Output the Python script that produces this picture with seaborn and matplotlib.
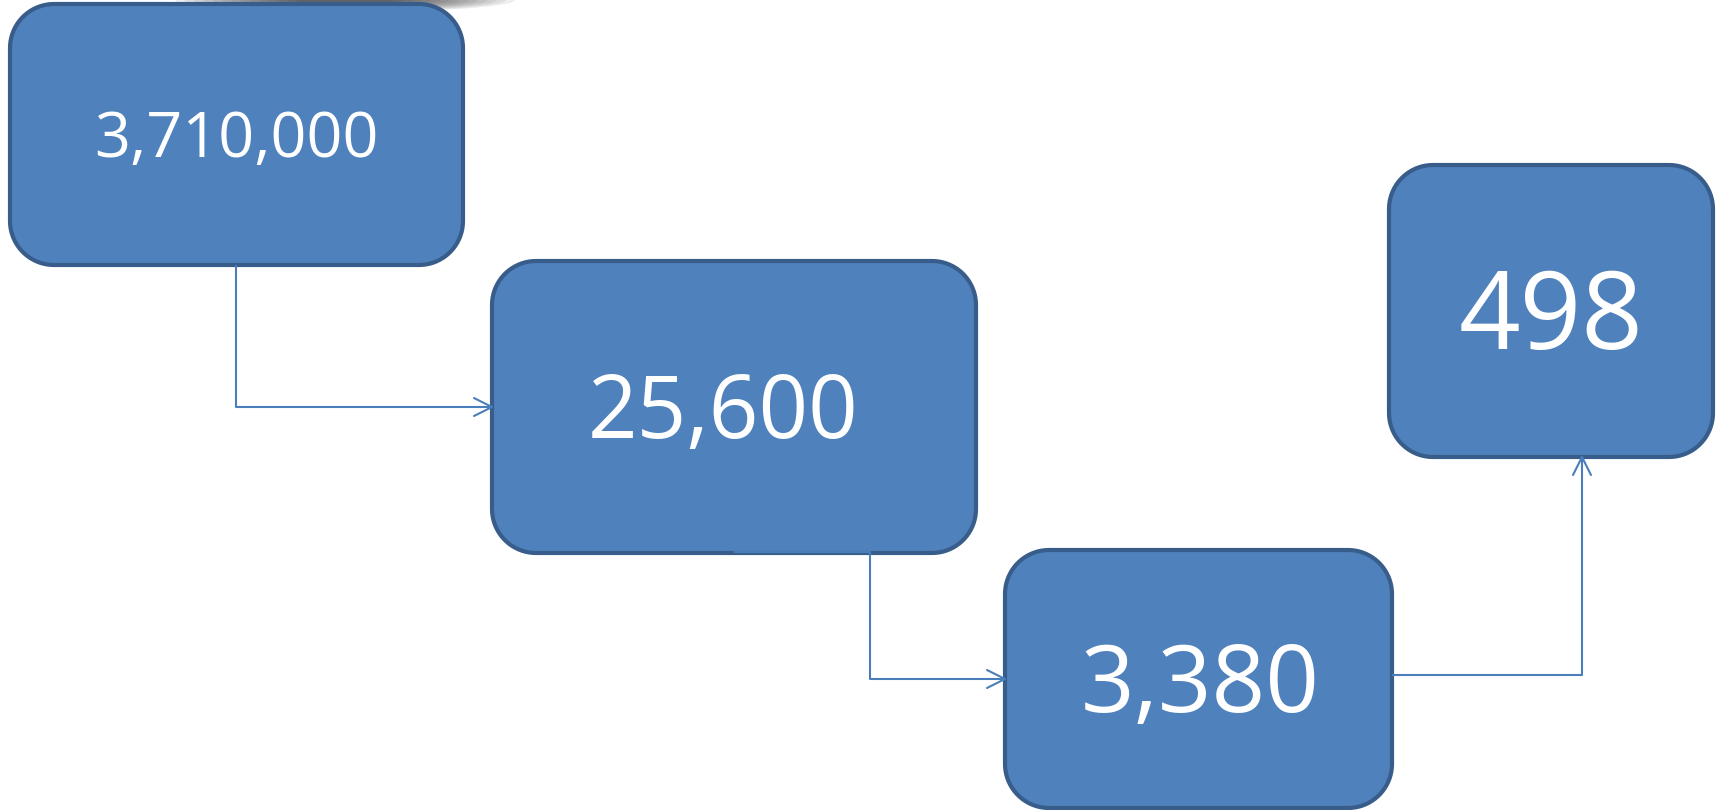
import matplotlib
matplotlib.use("Agg")
import matplotlib.pyplot as plt
import numpy as np
import seaborn as sns
from matplotlib.patches import Polygon, Ellipse

# values shown in the four boxes (left to right)
values = [3710000, 25600, 3380, 498]
labels = [f"{v:,}" for v in values]

# layout in pixels from the top-left corner: box left, top, right, bottom
box_left = [10, 492, 1005, 1389]
box_top = [4, 261, 550, 165]
box_right = [463, 976, 1392, 1713]
box_bottom = [265, 553, 808, 457]
digit_px = [45, 62, 67, 77]        # height of the digits in each box
text_dx = [0, -11, 2, 0]

# elbow connectors (x list, y list), arrow at the last point
conn_x = [[236, 236, 492], [734, 870, 870, 1005], [1392, 1582, 1582]]
conn_y = [[265, 407, 407], [552, 552, 679, 679], [675, 675, 457]]

fill = "#4F81BD"
edge = "#385D8A"
line_col = "#4A7EBB"

sns.set_theme(style="white")
plt.rcParams["font.family"] = ["Open Sans", "DejaVu Sans"]

W, H = 1719, 810
fig = plt.figure(figsize=(W / 100, H / 100), dpi=100)
ax = fig.add_axes([0, 0, 1, 1])
ax.set_xlim(0, W)
ax.set_ylim(0, H)
ax.axis("off")


def fy(y):
    # picture rows count downward, the axes upward
    return H - y


def rounded_box(x0, y0, x1, y1, r):
    t = np.linspace(0, np.pi / 2, 20)
    pts = []
    for cx, cy, a0 in [(x1 - r, y1 - r, 0), (x0 + r, y1 - r, np.pi / 2),
                       (x0 + r, y0 + r, np.pi), (x1 - r, y0 + r, 1.5 * np.pi)]:
        pts += list(zip(cx + r * np.cos(a0 + t), cy + r * np.sin(a0 + t)))
    return pts


# soft shadow at the top edge, built from many faint ellipses
for k in range(14):
    f = 1 - k / 14
    ax.add_patch(Ellipse((345, fy(0)), 80 + 260 * f, 6 + 18 * f,
                         color="#111111", alpha=0.07, lw=0, zorder=1))

px2pt = 72 / 100
for i, lab in enumerate(labels):
    x0, x1 = box_left[i], box_right[i]
    y0, y1 = fy(box_bottom[i]), fy(box_top[i])
    ax.add_patch(Polygon(rounded_box(x0, y0, x1, y1, 44), closed=True,
                         facecolor=fill, edgecolor=edge, lw=3.0, zorder=3))
    cx = (x0 + x1) / 2 + text_dx[i]
    cy = (y0 + y1) / 2
    size = digit_px[i] / 0.714 * px2pt
    ax.text(cx, cy - digit_px[i] / 2, lab, color="white", fontsize=size,
            ha="center", va="baseline", zorder=5)

for xs, ys in zip(conn_x, conn_y):
    ys = [fy(y) for y in ys]
    ax.plot(xs, ys, color=line_col, lw=1.5, zorder=4, solid_capstyle="butt")
    # open arrow head
    dx, dy = xs[-1] - xs[-2], ys[-1] - ys[-2]
    n = (dx ** 2 + dy ** 2) ** 0.5
    ux, uy = dx / n, dy / n
    L, Wd = 18, 9
    bx, by = xs[-1] - ux * L, ys[-1] - uy * L
    ax.plot([bx - uy * Wd, xs[-1], bx + uy * Wd], [by + ux * Wd, ys[-1], by - ux * Wd],
            color=line_col, lw=1.5, zorder=4)

fig.savefig("out.png", dpi=100, facecolor="white")
